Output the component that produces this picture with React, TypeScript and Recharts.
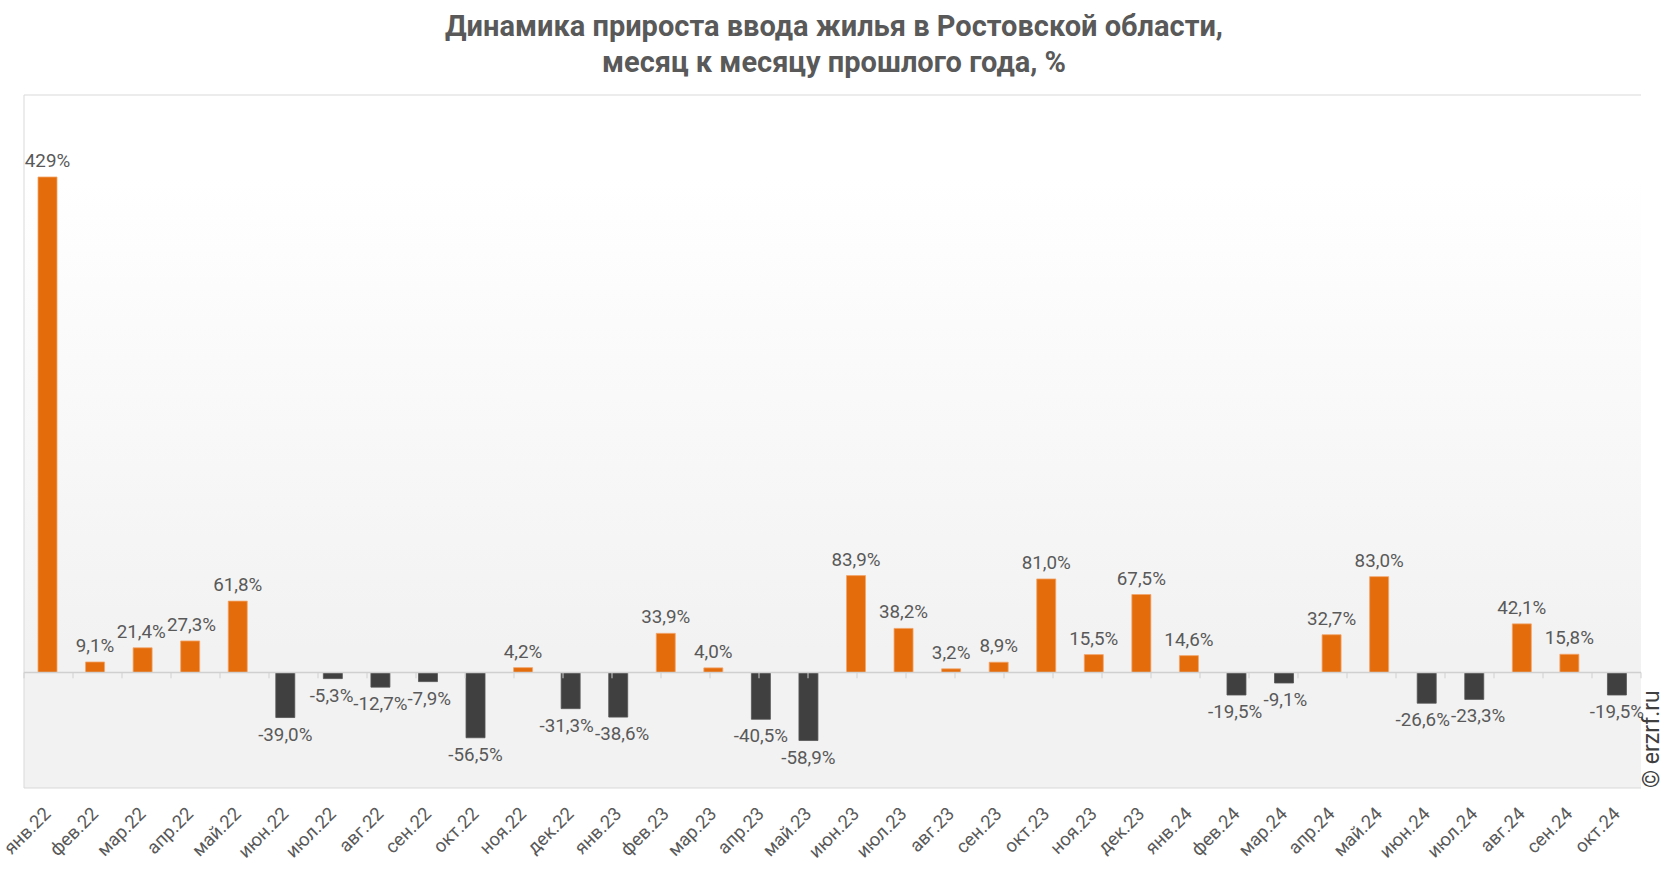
import React from 'react';
import { BarChart, Bar, XAxis, YAxis, Cell, LabelList, ReferenceLine, CartesianGrid } from 'recharts';

const months = [
  'янв.22', 'фев.22', 'мар.22', 'апр.22', 'май.22', 'июн.22', 'июл.22', 'авг.22', 'сен.22', 'окт.22', 'ноя.22', 'дек.22',
  'янв.23', 'фев.23', 'мар.23', 'апр.23', 'май.23', 'июн.23', 'июл.23', 'авг.23', 'сен.23', 'окт.23', 'ноя.23', 'дек.23',
  'янв.24', 'фев.24', 'мар.24', 'апр.24', 'май.24', 'июн.24', 'июл.24', 'авг.24', 'сен.24', 'окт.24',
];

const growth = [
  429, 9.1, 21.4, 27.3, 61.8, -39.0, -5.3, -12.7, -7.9, -56.5, 4.2, -31.3,
  -38.6, 33.9, 4.0, -40.5, -58.9, 83.9, 38.2, 3.2, 8.9, 81.0, 15.5, 67.5,
  14.6, -19.5, -9.1, 32.7, 83.0, -26.6, -23.3, 42.1, 15.8, -19.5,
];

const yDomain = [-100, 500];
const titleLines = ['Динамика прироста ввода жилья в Ростовской области,', 'месяц к месяцу прошлого года, %'];
const copyright = '© erzrf.ru';

const POS = '#E46C0A';
const NEG = '#404040';
const TEXT = '#595959';
const BORDER = '#d9d9d9';
const FONT = 'Roboto, "Noto Sans", sans-serif';

const W = 1666;
const H = 872;
const MARGIN = { top: 95, right: 25, bottom: 0, left: 24 };
const LABEL_FS = 18.8;
const BAND = (W - MARGIN.left - MARGIN.right) / months.length;

const data = months.map((m, i) => ({ month: m, value: growth[i] }));
const boundaries = Array.from({ length: months.length + 1 }, (_, i) => i);

const fmt = (v: number) =>
  Math.abs(v) >= 100 ? `${Math.round(v)}%` : `${v.toFixed(1).replace('.', ',')}%`;

const charW: Record<string, number> = { '-': 0.28, ',': 0.2, '%': 0.73 };
const textWidth = (s: string) =>
  s.split('').reduce((a, c) => a + (charW[c] ?? 0.562), 0) * LABEL_FS;

// nudge a label sideways when it would collide with a neighbour's label
const nudge = (i: number, height: number) => {
  const v = growth[i];
  const wi = textWidth(fmt(v));
  let dx = 0;
  [-1, 1].forEach((dir) => {
    const j = i + dir;
    if (j < 0 || j >= growth.length) return;
    const vn = growth[j];
    if (Math.sign(vn) !== Math.sign(v)) return;
    const dy = Math.abs(height) * Math.abs(1 - vn / v);
    if (dy > LABEL_FS * 0.8) return;
    const overlap = (wi + textWidth(fmt(vn))) / 2 + 1 - BAND;
    if (overlap > 0) dx -= (dir * overlap) / 2;
  });
  return dx;
};

const renderLabel = (p: any) => {
  const { x, y, width, height, value, index } = p;
  const v = Number(value);
  const top = Math.min(y, y + height);
  const bottom = Math.max(y, y + height);
  const cx = x + width / 2 + nudge(index, height);
  const cy = v >= 0 ? top - 16 : bottom + 17;
  return (
    <text x={cx} y={cy} textAnchor="middle" dominantBaseline="central" fontSize={LABEL_FS} fill={TEXT} fontFamily={FONT}>
      {fmt(v)}
    </text>
  );
};

const Tick = (props: any) => {
  const { x, y, payload } = props;
  return (
    <g transform={`translate(${x + 4},${y + 27})`}>
      <text x={0} y={0} transform="rotate(-45)" textAnchor="end" fontSize={18.5} fill={TEXT} fontFamily={FONT}>
        {payload.value}
      </text>
    </g>
  );
};

export default function App() {
  return (
    <div style={{ position: 'absolute', left: 0, top: 0, width: W, height: H, background: '#fff' }}>
      <svg width={0} height={0} style={{ position: 'absolute' }}>
        <defs>
          <linearGradient id="plotBg" x1="0" y1="0" x2="0" y2="1">
            <stop offset="0%" stopColor="#ffffff" />
            <stop offset="12%" stopColor="#ffffff" />
            <stop offset="80%" stopColor="#f2f2f2" />
            <stop offset="100%" stopColor="#f2f2f2" />
          </linearGradient>
        </defs>
      </svg>
      <svg width={W} height={90} style={{ position: 'absolute', left: 0, top: 0 }}>
        <text x={834} y={36} textAnchor="middle" fontSize={29} fontWeight="bold" fill={TEXT} fontFamily={FONT}>
          {titleLines[0]}
        </text>
        <text x={834} y={72} textAnchor="middle" fontSize={29} fontWeight="bold" fill={TEXT} fontFamily={FONT}>
          {titleLines[1]}
        </text>
      </svg>
      <div style={{ position: 'absolute', left: 0, top: 0 }}>
        <BarChart width={W} height={H} data={data} margin={MARGIN} barSize={19}>
          <CartesianGrid horizontal={false} vertical={false} fill="url(#plotBg)" fillOpacity={1} />
          <XAxis
            xAxisId="cat"
            dataKey="month"
            type="category"
            interval={0}
            axisLine={false}
            tickLine={false}
            tickSize={0}
            tickMargin={0}
            height={84}
            tick={<Tick />}
          />
          <XAxis xAxisId="grid" type="number" domain={[0, months.length]} hide allowDataOverflow />
          <YAxis domain={yDomain} hide allowDataOverflow />
          <ReferenceLine xAxisId="grid" y={yDomain[1]} stroke={BORDER} strokeWidth={1} ifOverflow="visible" />
          <ReferenceLine xAxisId="grid" y={yDomain[0]} stroke={BORDER} strokeWidth={1} ifOverflow="visible" />
          <ReferenceLine xAxisId="grid" x={0} stroke={BORDER} strokeWidth={1} ifOverflow="visible" />
          <ReferenceLine xAxisId="grid" x={months.length} stroke={BORDER} strokeWidth={1} ifOverflow="visible" />
          <ReferenceLine xAxisId="grid" y={0} stroke="#d0d0d0" strokeWidth={1.5} />
          {boundaries.map((b) => (
            <ReferenceLine
              key={b}
              xAxisId="grid"
              segment={[{ x: b, y: 0 }, { x: b, y: -5 }]}
              stroke="#d0d0d0"
              strokeWidth={1}
            />
          ))}
          <Bar xAxisId="cat" dataKey="value" isAnimationActive={false}>
            {data.map((d, i) => (
              <Cell key={i} fill={d.value >= 0 ? POS : NEG} stroke={d.value >= 0 ? '#f2a46b' : '#555555'} strokeWidth={0.8} />
            ))}
            <LabelList dataKey="value" content={renderLabel} />
          </Bar>
        </BarChart>
      </div>
      <svg width={W} height={H} style={{ position: 'absolute', left: 0, top: 0, pointerEvents: 'none' }}>
        <text x={1659} y={788} transform="rotate(-90 1659 788)" textAnchor="start" fontSize={23} fill="#404040" fontFamily={FONT}>
          {copyright}
        </text>
      </svg>
    </div>
  );
}
